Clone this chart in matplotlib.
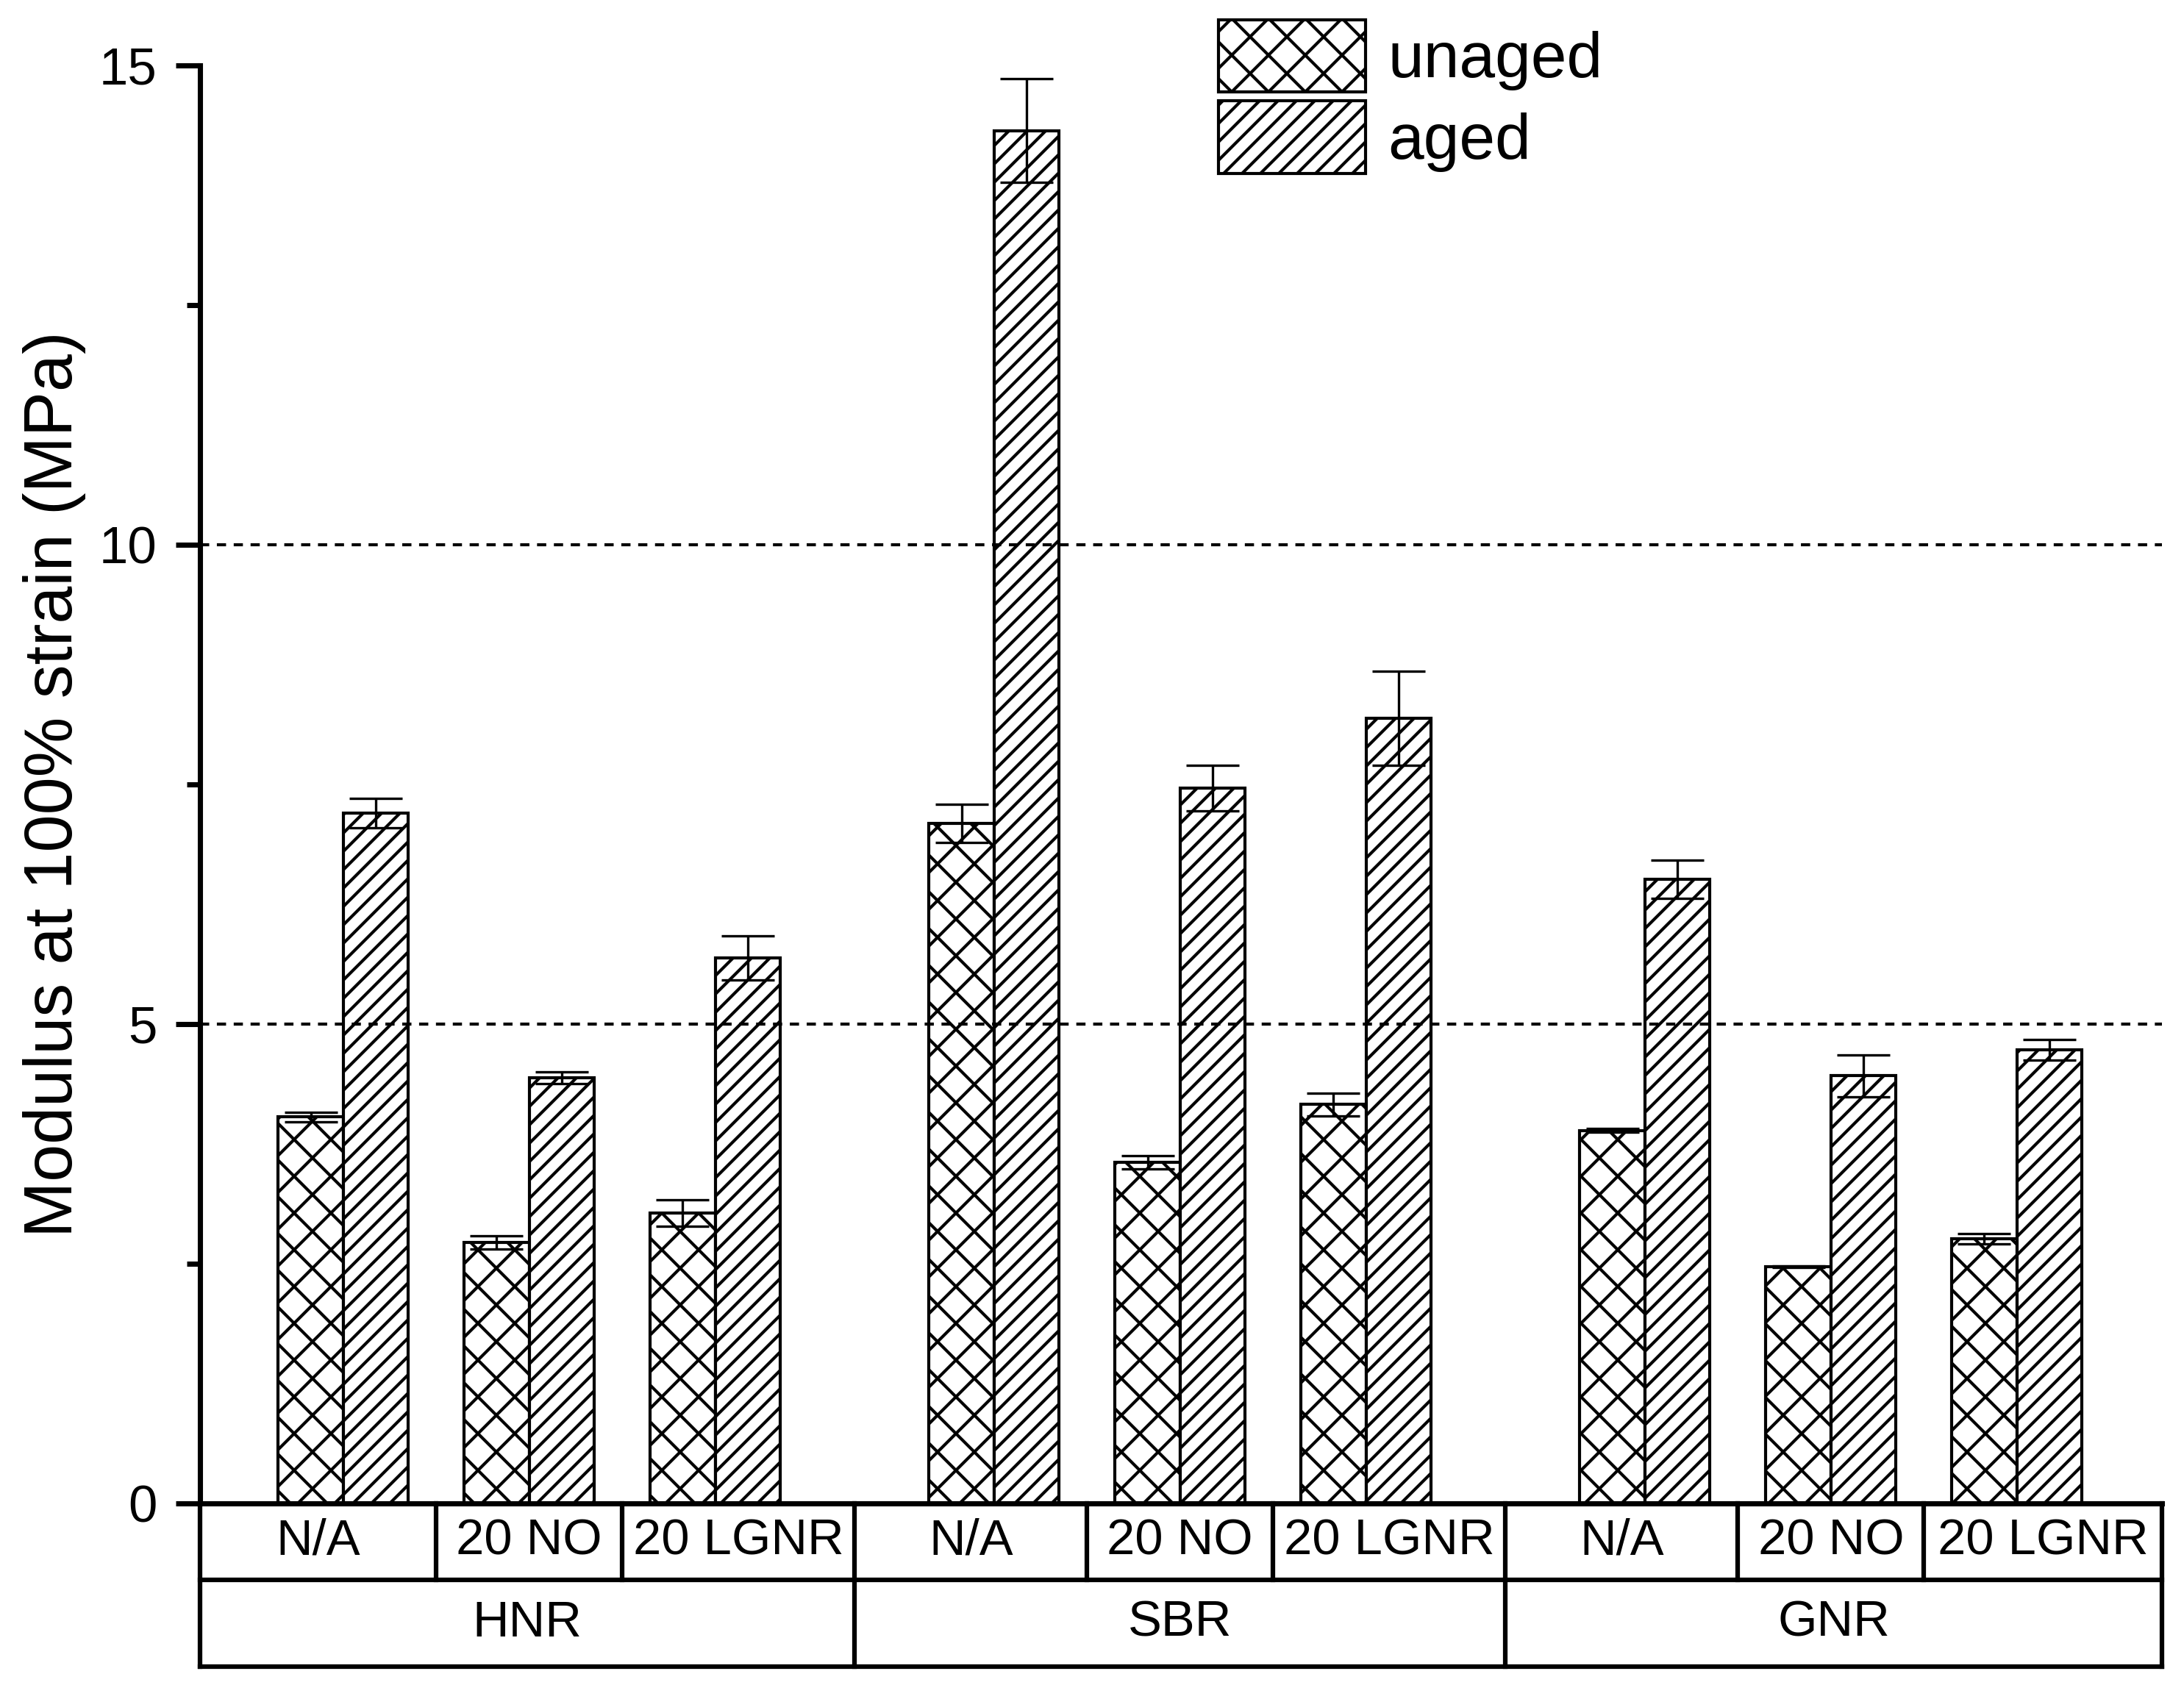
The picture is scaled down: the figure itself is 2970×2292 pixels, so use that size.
import numpy as np
import matplotlib
matplotlib.use('Agg')
import matplotlib.pyplot as plt

plt.rcParams['font.family'] = ['Liberation Sans', 'DejaVu Sans']
plt.rcParams['hatch.linewidth'] = 1.0

# data
matrices = ['HNR', 'SBR', 'GNR']
fillers = ['N/A', '20 NO', '20 LGNR']
unaged = [4.03, 2.72, 3.03, 7.09, 3.56, 4.16, 3.89, 2.47, 2.76]
unaged_err = [0.05, 0.07, 0.14, 0.20, 0.07, 0.12, 0.02, 0.01, 0.05]
aged = [7.20, 4.44, 5.69, 14.32, 7.46, 8.19, 6.51, 4.46, 4.73]
aged_err = [0.15, 0.06, 0.23, 0.54, 0.24, 0.49, 0.20, 0.22, 0.11]

gstep = 3.5
pos = np.array([g * gstep + j for g in range(len(matrices)) for j in range(len(fillers))])
w = 0.35
xl, xr = -0.77, 9.78

fig = plt.figure(figsize=(9.9, 7.64), dpi=300)
ax = fig.add_axes([0.0916, 0.1078, 0.8983, 0.8534])

ekw = dict(ecolor='black', elinewidth=0.8, capsize=8.6, capthick=0.8, zorder=4)
b1 = ax.bar(pos - w / 2, unaged, w, yerr=unaged_err, facecolor='white', edgecolor='black',
            hatch='xx', linewidth=1.0, error_kw=ekw, label='unaged', zorder=2)
b2 = ax.bar(pos + w / 2, aged, w, yerr=aged_err, facecolor='white', edgecolor='black',
            hatch='////', linewidth=1.0, error_kw=ekw, label='aged', zorder=2)

ax.set_xlim(xl, xr)
ax.set_ylim(0, 15)
ax.set_yticks([0, 5, 10, 15])
ax.set_yticks(np.arange(0, 15.1, 2.5), minor=True)
for yv in [5, 10]:
    ax.axhline(yv, color='black', lw=1.0, ls=(0, (3, 2.5)), zorder=3)

ax.set_xticks([])
for s in ['top', 'right']:
    ax.spines[s].set_visible(False)
for s in ['left', 'bottom']:
    ax.spines[s].set_linewidth(1.7)
ax.tick_params(axis='y', which='major', length=8, width=1.7, labelsize=17, pad=6)
ax.tick_params(axis='y', which='minor', length=4.3, width=1.7)

ax.set_ylabel('Modulus at 100% strain (MPa)', fontsize=22)
ax.yaxis.set_label_coords(-0.058, 0.5)

# category table under the axis
tr = ax.get_xaxis_transform()
r1, r2 = -0.0532, -0.1135
lk = dict(color='black', lw=1.5, transform=tr, clip_on=False)
ax.plot([xl, xr], [r1, r1], **lk)
ax.plot([xl, xr], [r2, r2], **lk)
ax.plot([xl, xl], [0, r2], **lk)
ax.plot([xr, xr], [0, r2], **lk)
for g, m in enumerate(matrices):
    base = g * gstep
    left = xl if g == 0 else base - (gstep - 2) / 2
    right = xr if g == len(matrices) - 1 else base + 2 + (gstep - 2) / 2
    if g > 0:
        ax.plot([left, left], [0, r2], **lk)
    edges = [left, base + 0.5, base + 1.5, right]
    for e in edges[1:-1]:
        ax.plot([e, e], [0, r1], **lk)
    for j, f in enumerate(fillers):
        ax.text((edges[j] + edges[j + 1]) / 2, r1 / 2, f, transform=tr,
                ha='center', va='center', fontsize=16.5)
    ax.text((left + right) / 2, (r1 + r2) / 2, m, transform=tr,
            ha='center', va='center', fontsize=16.5)

ax.legend(handles=[b1, b2], loc='upper left', bbox_to_anchor=(1657 / 2970, 1 - 27 / 2292),
          bbox_transform=fig.transFigure, frameon=False, fontsize=21, borderpad=0,
          borderaxespad=0, handlelength=2.28, handleheight=1.35, labelspacing=0.14,
          handletextpad=0.35)

fig.savefig('out.png', dpi=300)
